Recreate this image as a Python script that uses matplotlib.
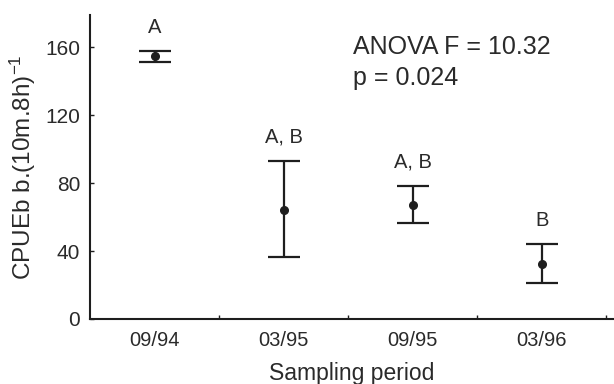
import numpy as np
import matplotlib
matplotlib.use('agg')
import matplotlib.pyplot as plt

periods = ["09/94", "03/95", "09/95", "03/96"]
means = [154.7, 64.0, 67.0, 32.4]
lower = [151.6, 36.3, 56.3, 21.0]
upper = [158.0, 93.0, 78.4, 44.0]
groups = ["A", "A, B", "A, B", "B"]
yticks = [0, 40, 80, 120, 160]

plt.rcParams['font.family'] = ['Liberation Sans', 'DejaVu Sans']
plt.rcParams['mathtext.fontset'] = 'custom'
plt.rcParams['mathtext.rm'] = 'Liberation Sans'
plt.rcParams['mathtext.it'] = 'Liberation Sans:italic'

ink = '#1e1e1e'
txt = '#2a2a2a'

fig = plt.figure(figsize=(6.14, 3.84), dpi=100)
ax = fig.add_axes([0.1466, 0.1693, 0.8534, 0.7917])

x = np.arange(len(periods))
m = np.array(means)
err = np.vstack([m - np.array(lower), np.array(upper) - m])
ax.errorbar(x, m, yerr=err, fmt='o', color=ink, ms=5.5, elinewidth=1.6,
            capsize=11.5, capthick=1.6)

for xi, up, g in zip(x, upper, groups):
    ax.annotate(g, (xi, up), xytext=(0, 17), textcoords='offset points',
                ha='center', va='center', fontsize=14.5, color=txt)

ax.text(0.502, 0.895, "ANOVA F = 10.32", transform=ax.transAxes,
        fontsize=18, color=txt, va='center', ha='left')
ax.text(0.502, 0.793, "p = 0.024", transform=ax.transAxes,
        fontsize=18, color=txt, va='center', ha='left')

ax.set_xlim(-0.5, 3.56)
ax.set_ylim(0, 179)
ax.set_xticks(x)
ax.set_xticklabels(periods)
ax.set_xticks([0.5, 1.5, 2.5, 3.5], minor=True)
ax.set_yticks(yticks)
ax.tick_params(axis='x', which='major', length=0, pad=9, labelsize=14.5, labelcolor=txt)
ax.tick_params(axis='x', which='minor', direction='in', length=3, width=1, color=ink)
ax.tick_params(axis='y', direction='in', length=3, width=1, color=ink, pad=7,
               labelsize=15, labelcolor=txt)

for s in ['top', 'right']:
    ax.spines[s].set_visible(False)
for s in ['left', 'bottom']:
    ax.spines[s].set_color(ink)
    ax.spines[s].set_linewidth(1.5)

ax.set_xlabel("Sampling period", fontsize=16.5, color=txt, labelpad=8)
ax.set_ylabel("CPUEb b.(10m.8h)$^{\\mathrm{-1}}$", fontsize=17.5, color=txt, labelpad=5)

fig.savefig("out.png", dpi=100)
